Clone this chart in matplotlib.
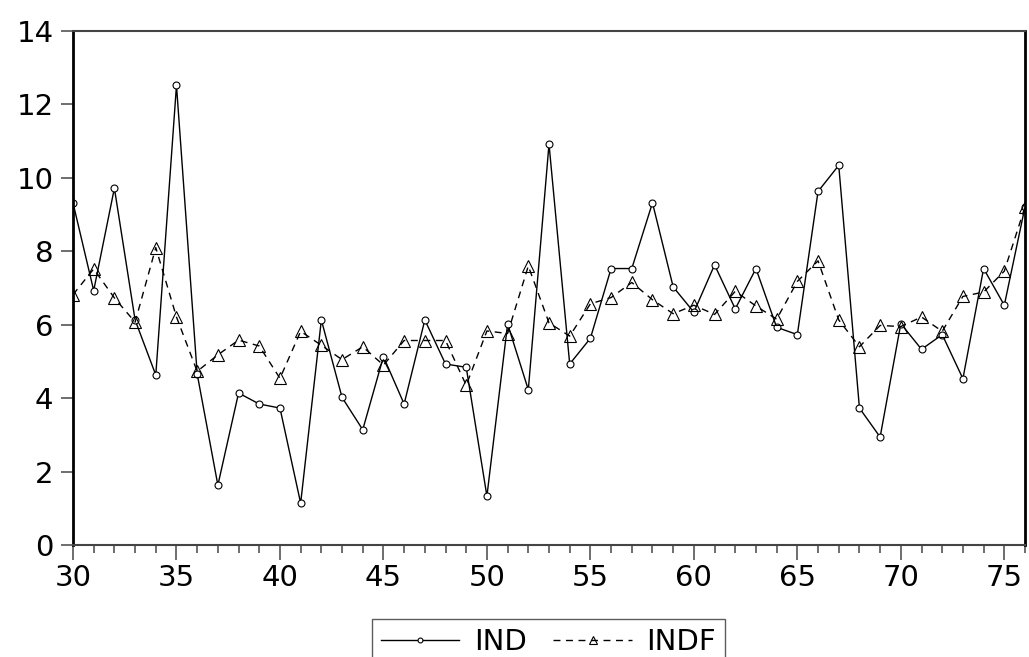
import matplotlib.pyplot as plt
from matplotlib.ticker import MultipleLocator

plt.rcParams["font.family"] = ["DejaVu Sans"]

years = list(range(30, 77))

ind = [
    9.32, 6.93, 9.72, 6.13, 4.63, 12.52, 4.66, 1.63, 4.14, 3.84,
    3.73, 1.14, 6.13, 4.02, 3.14, 5.13, 3.84, 6.13, 4.93, 4.84,
    1.33, 6.02, 4.23, 10.92, 4.93, 5.63, 7.53, 7.53, 9.32, 7.03,
    6.34, 7.63, 6.43, 7.53, 5.93, 5.73, 9.63, 10.34, 3.73, 2.94,
    6.03, 5.33, 5.73, 4.53, 7.53, 6.53, 9.21,
]

indf = [
    6.82, 7.52, 6.73, 6.07, 8.10, 6.21, 4.73, 5.18, 5.58, 5.42,
    4.54, 5.82, 5.44, 5.05, 5.40, 4.90, 5.57, 5.57, 5.57, 4.35,
    5.83, 5.76, 7.60, 6.05, 5.69, 6.57, 6.74, 7.15, 6.68, 6.30,
    6.53, 6.28, 6.91, 6.51, 6.15, 7.18, 7.74, 6.13, 5.40, 5.98,
    5.95, 6.21, 5.82, 6.77, 6.89, 7.46, 9.21,
]

fig = plt.figure(figsize=(10.29, 6.57), dpi=100)
ax = fig.add_axes([73 / 1029, 112 / 657, 952 / 1029, 514 / 657])

ax.plot(years, ind, color="black", linewidth=1.0, marker="o", markersize=5,
        markerfacecolor="white", markeredgecolor="black", markeredgewidth=0.8,
        label="IND")
ax.plot(years, indf, color="black", linewidth=1.0, linestyle=(0, (5, 4)),
        marker="^", markersize=8, markerfacecolor="none",
        markeredgecolor="black", markeredgewidth=0.8, label="INDF")

ax.set_xlim(30, 76)
ax.set_ylim(0, 14)
ax.xaxis.set_major_locator(MultipleLocator(5))
ax.xaxis.set_minor_locator(MultipleLocator(1))
ax.yaxis.set_major_locator(MultipleLocator(2))

tick_grey = "#555555"
ax.tick_params(axis="both", which="major", direction="out", labelsize=21,
               width=1.2, color=tick_grey)
ax.tick_params(axis="x", which="major", length=11, pad=3)
ax.tick_params(axis="x", which="minor", length=5.5, width=1.2, color=tick_grey)
ax.tick_params(axis="y", which="major", length=9, pad=5)

ax.spines["left"].set_linewidth(2.0)
ax.spines["right"].set_linewidth(2.0)
ax.spines["bottom"].set_linewidth(1.5)
ax.spines["top"].set_linewidth(1.5)
ax.spines["top"].set_color("#444444")
ax.spines["bottom"].set_color("#444444")

leg = fig.legend(loc="upper center", bbox_to_anchor=(0.533, 0.0578),
                 ncol=2, fontsize=21, frameon=True, fancybox=False,
                 edgecolor="#333333", handlelength=2.7, handletextpad=0.5,
                 columnspacing=0.9, borderaxespad=0, borderpad=0.3,
                 markerscale=0.7)
leg.get_frame().set_linewidth(1.0)

fig.savefig("out.png", dpi=100)
